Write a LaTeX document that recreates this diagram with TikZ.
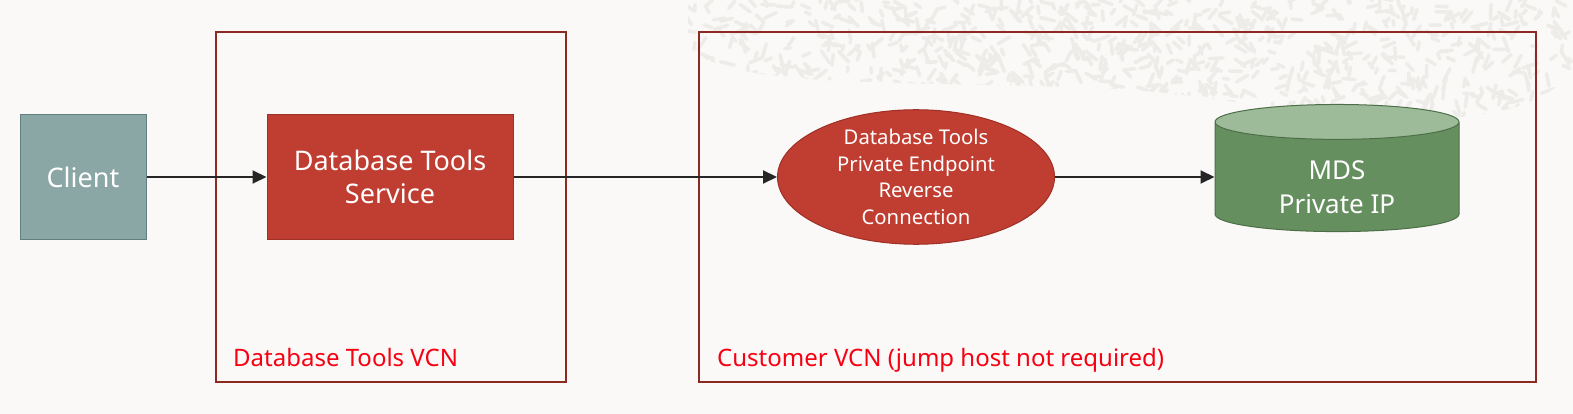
\documentclass[tikz,border=0pt]{standalone}
\usepackage{fontspec}
\setmainfont{Noto Sans}
\usetikzlibrary{arrows.meta, positioning, shapes.geometric}
\definecolor{bgcol}{HTML}{FAF9F7}
\definecolor{texcol}{HTML}{EEECE9}
\definecolor{vcnred}{HTML}{8C2A22}
\definecolor{labelred}{HTML}{F70012}
\definecolor{clientfill}{HTML}{8AA6A5}
\definecolor{clientdraw}{HTML}{637F80}
\definecolor{svcfill}{HTML}{C03D31}
\definecolor{svcdraw}{HTML}{9E3026}
\definecolor{mdsbody}{HTML}{668F60}
\definecolor{mdsend}{HTML}{9DBB98}
\definecolor{mdsdraw}{HTML}{4D6E48}
\definecolor{linecol}{HTML}{262626}

\begin{document}
\begin{tikzpicture}[x=1pt, y=-1pt,
  texture/.style={draw=texcol, line width=3.5pt, line cap=round},
  vcn/.style={draw=vcnred, line width=2pt},
  vcnlabel/.style={text=labelred, font=\fontsize{24}{28}\selectfont, anchor=base west, inner sep=0pt},
  client/.style={rectangle, fill=clientfill, draw=clientdraw, line width=1pt, text=white,
    minimum width=126pt, minimum height=124pt, inner sep=0pt, font=\fontsize{27}{33}\selectfont},
  svc/.style={rectangle, fill=svcfill, draw=svcdraw, line width=1pt, text=white, align=center,
    minimum width=246pt, minimum height=124pt, inner sep=0pt, font=\fontsize{27}{33}\selectfont},
  endpt/.style={ellipse, fill=svcfill, draw=svcdraw, line width=1pt, text=white, align=center,
    minimum width=277pt, minimum height=120pt, inner sep=0pt, font=\fontsize{20.3}{26.5}\selectfont},
  mds/.style={cylinder, shape border rotate=90, aspect=0.3, cylinder uses custom fill,
    cylinder body fill=mdsbody, cylinder end fill=mdsend, draw=mdsdraw, line width=1pt,
    text=white, align=center, minimum width=244pt, minimum height=122pt, inner sep=0pt,
    font=\fontsize{26}{34}\selectfont},
  flow/.style={draw=linecol, line width=2pt, -{Triangle[length=14pt,width=13pt]}}]
\useasboundingbox[fill=bgcol] (0,0) rectangle (1573,414);

% background texture, top right
\begin{scope}
\clip (688,0) -- (688,45) .. controls (720,90) and (900,80) .. (1100,88)
  .. controls (1250,95) and (1300,125) .. (1450,118)
  .. controls (1540,112) and (1573,80) .. (1573,60) -- (1573,0) -- cycle;
\pgfmathsetseed{7}
\foreach \i in {1,...,1000}{
  \pgfmathsetmacro\px{688+885*rnd}
  \pgfmathsetmacro\py{130*rnd}
  \pgfmathsetmacro\pa{360*rnd}
  \pgfmathsetmacro\pl{5+10*rnd}
  \draw[texture] (\px,\py) -- ++(\pa:\pl pt);
}
\end{scope}

% VCNs
\draw[vcn] (216,32) rectangle (566,382);
\node[vcnlabel] (dbvcn) at (233,366) {Database Tools VCN};
\draw[vcn] (699,32) rectangle (1536,382);
\node[vcnlabel] (custvcn) at (717,366) {Customer VCN (jump host not required)};

% components
\node[client] (client) at (83,177) {Client};
\node[svc] (service) at (390,177) {Database Tools\\Service};
\node[endpt] (endpoint) at (916,177) {Database Tools\\Private Endpoint\\Reverse\\Connection};
\node[mds] (mds) at (1337,177) {\rule{0pt}{40pt}MDS\\Private IP};

\draw[flow] (client) -- (service);
\draw[flow] (service) -- (endpoint);
\draw[flow] (endpoint) -- (mds);
\end{tikzpicture}
\end{document}
